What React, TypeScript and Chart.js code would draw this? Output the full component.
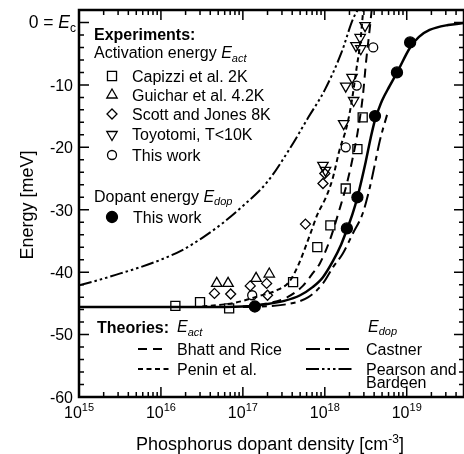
import React, { useEffect, useRef } from "react";
import { Chart, registerables } from "chart.js";

Chart.register(...registerables);

const FONT = '"Liberation Sans", Arial, Helvetica, sans-serif';

// ---- axes ----
const xMin = 1e15;
const xMax = 5e19;
const yMin = -60;
const yMax = 2;
const xDecadeExponents = ["15", "16", "17", "18", "19"];
const yMajorTicks = [0, -10, -20, -30, -40, -50, -60];
const yTickLabels = ["0", "-10", "-20", "-30", "-40", "-50", "-60"];

// ---- experiments: activation energy ----
const capizziN = [1.5e16, 3.0e16, 6.8e16, 4.1e17, 8.1e17, 1.17e18, 1.8e18, 2.5e18, 2.9e18];
const capizziE = [-45.4, -44.8, -45.8, -41.6, -36.0, -32.5, -26.6, -20.3, -15.2];
const guicharN = [4.8e16, 6.6e16, 1.45e17, 2.1e17];
const guicharE = [-41.8, -41.8, -41.0, -40.3];
const scottN = [4.5e16, 7.1e16, 1.23e17, 1.95e17, 2.0e17, 5.8e17, 9.5e17, 1.0e18];
const scottE = [-43.4, -43.5, -42.2, -41.8, -43.7, -32.3, -25.8, -24.2];
const toyotomiN = [3.1e18, 2.7e18, 2.4e18, 2.75e18, 1.8e18, 2.15e18, 2.25e18, 1.7e18, 9.5e17, 1.02e18];
const toyotomiE = [-0.5, -2.4, -3.7, -4.2, -10.2, -8.8, -12.5, -16.2, -22.9, -23.7];
const thisActN = [1.3e17, 1.8e18, 2.45e18, 3.9e18];
const thisActE = [-43.7, -20.0, -10.1, -4.0];
// ---- experiments: dopant energy ----
const thisDopN = [1.4e17, 1.86e18, 2.5e18, 4.1e18, 7.6e18, 1.1e19];
const thisDopE = [-45.5, -33.0, -28.0, -15.0, -8.0, -3.2];

// ---- theories ----
const bhattN = [1e17, 2e17, 3.5e17, 5.4e17, 7.1e17, 8.7e17, 1.15e18, 1.5e18, 1.86e18, 2.2e18, 2.5e18, 2.9e18, 3.2e18, 3.55e18, 3.8e18];
const bhattE = [-45.5, -45.0, -44.0, -42.2, -40.2, -38.6, -34.9, -30.1, -25.8, -21.6, -17.8, -12.0, -6.1, -0.8, 3];
const peninN = [3.2e16, 8e16, 1.6e17, 2.5e17, 3.7e17, 4.7e17, 6.6e17, 8.1e17, 1.05e18, 1.26e18, 1.5e18, 1.86e18, 2.14e18, 2.45e18, 2.7e18, 2.9e18, 3.0e18];
const peninE = [-45.5, -44.9, -43.8, -43.0, -41.5, -39.0, -34.0, -30.8, -27.8, -24.8, -20.6, -16.6, -12.5, -7.2, -3.4, 1.0, 3];
const castnerN = [1e17, 3.2e17, 6.3e17, 9.5e17, 1.26e18, 1.66e18, 2.2e18, 2.9e18, 3.55e18, 4.1e18, 4.7e18, 5.75e18];
const castnerE = [-45.6, -45.2, -44.0, -41.8, -39.2, -37.0, -33.8, -30.6, -26.4, -22.6, -18.9, -14.8];
const pearsonN = [1e15, 1.8e15, 3.2e15, 5.6e15, 1e16, 1.8e16, 3.2e16, 5.6e16, 1e17, 2e17, 3.7e17, 6.3e17, 1e18, 1.6e18, 2.2e18, 2.8e18];
const pearsonE = [-42.1, -41.2, -40.2, -39.2, -38.0, -36.5, -34.5, -32.2, -29.4, -25.5, -20.3, -15.2, -10.8, -4.8, 0.5, 3];
const fitN = [1e15, 3.2e16, 1e17, 2e17, 3.2e17, 5e17, 7.1e17, 9.5e17, 1.26e18, 1.58e18, 1.86e18, 2.19e18, 2.5e18, 3.16e18, 3.63e18, 4.1e18, 4.57e18, 5.0e18, 6.17e18, 7.76e18, 1.1e19, 1.41e19, 1.9e19, 3.2e19, 5e19];
const fitE = [-45.6, -45.6, -45.5, -45.1, -44.6, -43.7, -42.4, -40.8, -38.2, -35.6, -33.2, -30.6, -28.0, -22.3, -18.5, -15.6, -13.8, -12.5, -10.2, -7.8, -4.0, -2.3, -1.2, -0.4, -0.1];

const expLabels = ["Capizzi et al. 2K", "Guichar et al. 4.2K", "Scott and Jones 8K", "Toyotomi, T<10K", "This work"];
const theoryLabels = ["Bhatt and Rice", "Penin et al.", "Castner", "Pearson and", "Bardeen"];

const zip = (xs: number[], ys: number[]) => xs.map((x, i) => ({ x, y: ys[i] }));

type Seg = { t: string; size?: number; italic?: boolean; bold?: boolean; dy?: number };

function fontOf(s: Seg, base: number) {
  return `${s.italic ? "italic " : ""}${s.bold ? "bold " : ""}${s.size ?? base}px ${FONT}`;
}

function drawRich(ctx: CanvasRenderingContext2D, segs: Seg[], x: number, y: number, align: "left" | "center" | "right", base = 16) {
  let total = 0;
  const widths = segs.map((s) => {
    ctx.font = fontOf(s, base);
    const w = ctx.measureText(s.t).width;
    total += w;
    return w;
  });
  let cx = align === "left" ? x : align === "center" ? x - total / 2 : x - total;
  ctx.textAlign = "left";
  ctx.textBaseline = "alphabetic";
  segs.forEach((s, i) => {
    ctx.font = fontOf(s, base);
    ctx.fillText(s.t, cx, y + (s.dy ?? 0));
    cx += widths[i];
  });
}

function drawMarker(ctx: CanvasRenderingContext2D, kind: string, x: number, y: number) {
  ctx.save();
  ctx.lineWidth = 1.3;
  ctx.strokeStyle = "#000";
  ctx.fillStyle = "#000";
  ctx.setLineDash([]);
  ctx.beginPath();
  if (kind === "rect") {
    const h = 6.4 * Math.SQRT1_2;
    ctx.rect(x - h, y - h, 2 * h, 2 * h);
    ctx.stroke();
  } else if (kind === "tri" || kind === "triDown") {
    const r = 6;
    let rad = kind === "tri" ? 0 : Math.PI;
    ctx.moveTo(x + Math.sin(rad) * r, y - Math.cos(rad) * r);
    rad += (2 * Math.PI) / 3;
    ctx.lineTo(x + Math.sin(rad) * r, y - Math.cos(rad) * r);
    rad += (2 * Math.PI) / 3;
    ctx.lineTo(x + Math.sin(rad) * r, y - Math.cos(rad) * r);
    ctx.closePath();
    ctx.stroke();
  } else if (kind === "diamond") {
    const r = 5;
    ctx.moveTo(x, y - r);
    ctx.lineTo(x + r, y);
    ctx.lineTo(x, y + r);
    ctx.lineTo(x - r, y);
    ctx.closePath();
    ctx.stroke();
  } else if (kind === "circle") {
    ctx.arc(x, y, 4.5, 0, Math.PI * 2);
    ctx.stroke();
  } else if (kind === "dot") {
    ctx.arc(x, y, 5.5, 0, Math.PI * 2);
    ctx.fill();
    ctx.stroke();
  }
  ctx.restore();
}

function sampleLine(ctx: CanvasRenderingContext2D, x1: number, x2: number, y: number, dash: number[]) {
  ctx.save();
  ctx.lineWidth = 2;
  ctx.strokeStyle = "#000";
  ctx.setLineDash(dash);
  ctx.beginPath();
  ctx.moveTo(x1, y);
  ctx.lineTo(x2, y);
  ctx.stroke();
  ctx.restore();
}

const DASH_BHATT = [9, 6];
const DASH_PENIN = [5, 3.5];
const DASH_CASTNER = [14, 5, 5, 5];
const DASH_PEARSON = [13, 3, 2.5, 3, 2.5, 3, 2.5, 3];

const decorPlugin = {
  id: "decor",
  afterDraw(chart: any) {
    const ctx: CanvasRenderingContext2D = chart.ctx;
    const a = chart.chartArea;
    const xs = chart.scales.x;
    const ys = chart.scales.y;
    ctx.save();
    ctx.strokeStyle = "#000";
    ctx.fillStyle = "#000";
    ctx.setLineDash([]);

    // ticks
    ctx.lineWidth = 1.5;
    ctx.beginPath();
    xDecadeExponents.forEach((e) => {
      const d = Number(e);
      for (let k = 1; k <= 9; k++) {
        const v = k * Math.pow(10, d);
        if (v < xMin || v > xMax) continue;
        const px = xs.getPixelForValue(v);
        const len = k === 1 ? 10 : 5;
        ctx.moveTo(px, a.bottom);
        ctx.lineTo(px, a.bottom - len);
        ctx.moveTo(px, a.top);
        ctx.lineTo(px, a.top + len);
      }
    });
    for (let v = yMin; v <= yMax; v += 2) {
      const py = ys.getPixelForValue(v);
      const len = v % 10 === 0 ? 10 : 5;
      ctx.moveTo(a.left, py);
      ctx.lineTo(a.left + len, py);
      ctx.moveTo(a.right, py);
      ctx.lineTo(a.right - len, py);
    }
    ctx.stroke();

    // frame
    ctx.lineWidth = 2.5;
    ctx.strokeRect(a.left, a.top, a.right - a.left, a.bottom - a.top);

    // y tick labels
    yMajorTicks.forEach((v, i) => {
      const py = ys.getPixelForValue(v);
      if (v === 0) {
        drawRich(ctx, [{ t: "0 = ", size: 17.5 }, { t: "E", italic: true, size: 17.5 }, { t: "c", size: 12, dy: 4 }], 76, py + 6, "right");
      } else {
        drawRich(ctx, [{ t: yTickLabels[i] }], 73, py + 5.8, "right");
      }
    });

    // x tick labels
    xDecadeExponents.forEach((e) => {
      const px = xs.getPixelForValue(Math.pow(10, Number(e)));
      drawRich(ctx, [{ t: "10" }, { t: e, size: 11, dy: -7 }], px, 417.5, "center");
    });

    // axis titles
    drawRich(ctx, [{ t: "Phosphorus dopant density [cm" }, { t: "-3", size: 12, dy: -7 }, { t: "]" }], 270, 449.5, "center", 18);
    ctx.save();
    ctx.translate(33, 205);
    ctx.rotate(-Math.PI / 2);
    drawRich(ctx, [{ t: "Energy [meV]" }], 0, 0, "center", 18);
    ctx.restore();

    // experiments legend
    drawRich(ctx, [{ t: "Experiments:", bold: true }], 94, 39.7, "left");
    drawRich(ctx, [{ t: "Activation energy " }, { t: "E", italic: true }, { t: "act", italic: true, size: 11, dy: 3.5 }], 94, 58.2, "left");
    const kinds = ["rect", "tri", "diamond", "triDown", "circle"];
    const rows = [76, 95, 114, 134.5, 155];
    expLabels.forEach((lab, i) => {
      drawMarker(ctx, kinds[i], 112, rows[i]);
      drawRich(ctx, [{ t: lab }], 132, rows[i] + 5.7, "left");
    });
    drawRich(ctx, [{ t: "Dopant energy " }, { t: "E", italic: true }, { t: "dop", italic: true, size: 11, dy: 3.5 }], 94, 201.7, "left");
    drawMarker(ctx, "dot", 112, 217);
    drawRich(ctx, [{ t: "This work" }], 133, 222.7, "left");

    // theories legend
    drawRich(ctx, [{ t: "Theories:", bold: true }], 97, 333, "left");
    drawRich(ctx, [{ t: "E", italic: true }, { t: "act", italic: true, size: 11, dy: 3.5 }], 177, 332, "left");
    drawRich(ctx, [{ t: "E", italic: true }, { t: "dop", italic: true, size: 11, dy: 3.5 }], 368, 331.7, "left");
    sampleLine(ctx, 138, 166, 349, DASH_BHATT);
    drawRich(ctx, [{ t: theoryLabels[0] }], 177, 355, "left");
    sampleLine(ctx, 138, 171, 369, DASH_PENIN);
    drawRich(ctx, [{ t: theoryLabels[1] }], 177, 375, "left");
    sampleLine(ctx, 306, 353, 349, DASH_CASTNER);
    drawRich(ctx, [{ t: theoryLabels[2] }], 366, 355, "left");
    sampleLine(ctx, 306, 353, 369, DASH_PEARSON);
    drawRich(ctx, [{ t: theoryLabels[3] }], 366, 375, "left");
    drawRich(ctx, [{ t: theoryLabels[4] }], 366, 387.5, "left");

    ctx.restore();
  },
};

function markerSet(label: string, data: any[], style: string, radius: number, rotation = 0, filled = false) {
  return {
    label,
    data,
    showLine: false,
    pointStyle: style,
    pointRadius: radius,
    pointRotation: rotation,
    pointBorderWidth: 1.3,
    pointBorderColor: "#000",
    pointBackgroundColor: filled ? "#000" : "rgba(255,255,255,0)",
    borderColor: "#000",
    backgroundColor: filled ? "#000" : "rgba(255,255,255,0)",
  };
}

function curveSet(label: string, data: any[], dash: number[], width: number) {
  return {
    label,
    data,
    showLine: true,
    borderColor: "#000",
    borderWidth: width,
    borderDash: dash,
    pointRadius: 0,
    fill: false,
    cubicInterpolationMode: "monotone" as const,
  };
}

export default function App() {
  const ref = useRef<HTMLCanvasElement>(null);
  useEffect(() => {
    if (!ref.current) return;
    const chart = new Chart(ref.current, {
      type: "scatter",
      data: {
        datasets: [
          markerSet("This work (Edop)", zip(thisDopN, thisDopE), "circle", 5.5, 0, true),
          markerSet(expLabels[4], zip(thisActN, thisActE), "circle", 4.5),
          markerSet(expLabels[0], zip(capizziN, capizziE), "rect", 6.4),
          markerSet(expLabels[1], zip(guicharN, guicharE), "triangle", 6),
          markerSet(expLabels[2], zip(scottN, scottE), "rectRot", 5),
          markerSet(expLabels[3], zip(toyotomiN, toyotomiE), "triangle", 6, 180),
          curveSet("Fit", zip(fitN, fitE), [], 2.5),
          curveSet("Bhatt and Rice", zip(bhattN, bhattE), DASH_BHATT, 2),
          curveSet("Penin et al.", zip(peninN, peninE), DASH_PENIN, 2),
          curveSet("Castner", zip(castnerN, castnerE), DASH_CASTNER, 2),
          curveSet("Pearson and Bardeen", zip(pearsonN, pearsonE), DASH_PEARSON, 2),
        ] as any,
      },
      options: {
        animation: false,
        responsive: true,
        maintainAspectRatio: false,
        events: [],
        layout: { autoPadding: false, padding: { left: 79, top: 10, right: 0, bottom: 57 } },
        plugins: { legend: { display: false }, tooltip: { enabled: false } },
        scales: {
          x: { type: "logarithmic", min: xMin, max: xMax, display: false },
          y: { type: "linear", min: yMin, max: yMax, display: false },
        },
      },
      plugins: [decorPlugin],
    });
    return () => chart.destroy();
  }, []);
  return (
    <div style={{ position: "fixed", left: 0, top: 0, width: 464, height: 454, background: "#fff" }}>
      <canvas ref={ref} />
    </div>
  );
}
